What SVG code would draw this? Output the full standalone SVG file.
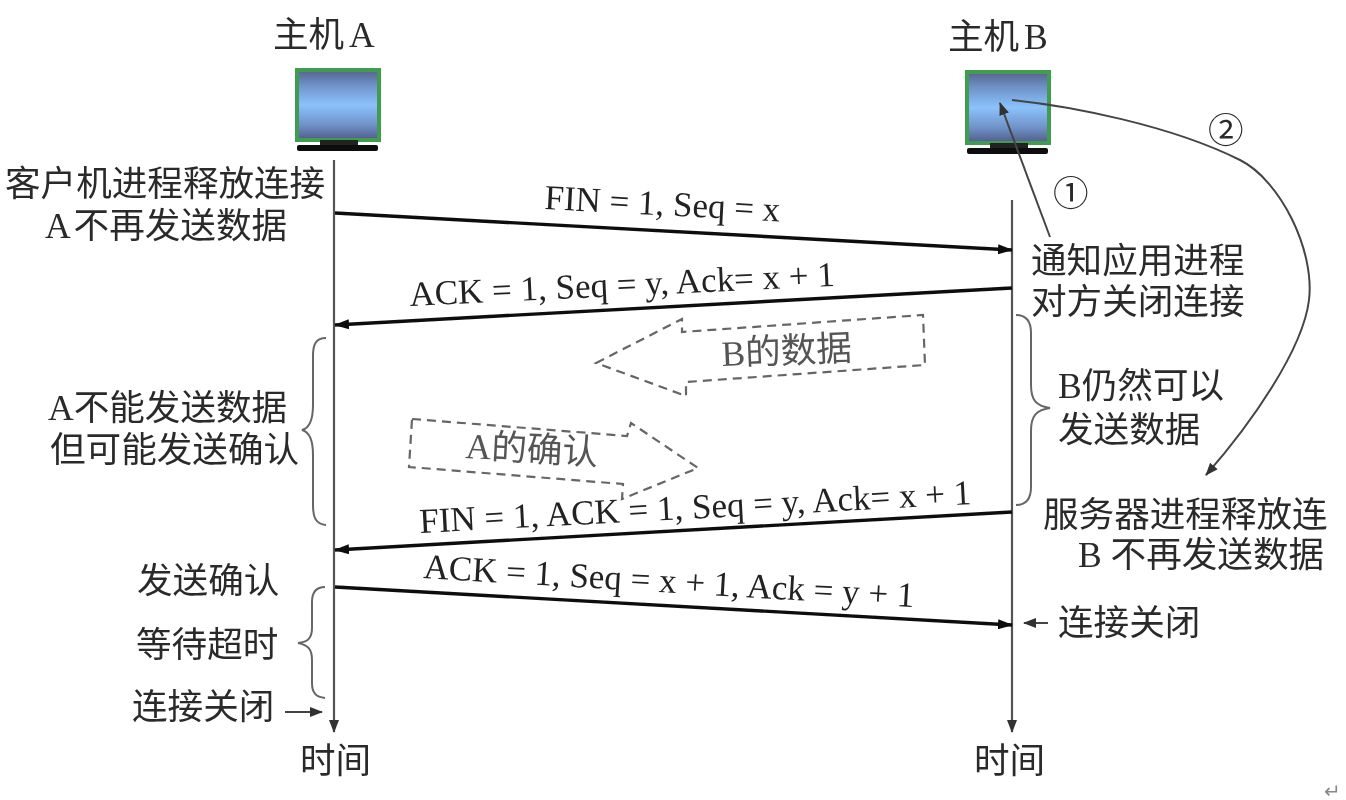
<svg xmlns="http://www.w3.org/2000/svg" width="1346" height="800" viewBox="0 0 1346 800">
<style>
text{font-family:"Liberation Serif","Noto Sans CJK SC",serif;font-size:35.6px;fill:#2a2a2a}
.m{font-size:35px;fill:#222}
.g{fill:#555}
.life{stroke:#555;stroke-width:2.2;fill:none}
.msg{stroke:#111;stroke-width:3.4;fill:none}
.brace{stroke:#666;stroke-width:2;fill:none}
.thin{stroke:#444;stroke-width:2;fill:none}
.dash{stroke:#666;stroke-width:2.2;fill:none;stroke-dasharray:9 6}
.scr{fill:url(#sg);stroke:#3f9c50;stroke-width:4}
.soft{filter:url(#s)}
.n{word-spacing:-4px}
</style>
<defs>
<filter id="s" x="0" y="0" width="1346" height="800" filterUnits="userSpaceOnUse"><feGaussianBlur stdDeviation="0.5"/></filter>
<linearGradient id="sg" x1="0" y1="0" x2="0" y2="1">
<stop offset="0" stop-color="#56608f"/><stop offset=".22" stop-color="#6f93c8"/><stop offset=".5" stop-color="#8cc2fc"/><stop offset=".78" stop-color="#6f93c8"/><stop offset="1" stop-color="#515a8a"/>
</linearGradient>
<marker id="a" markerWidth="18" markerHeight="10" refX="14" refY="5" orient="auto" markerUnits="userSpaceOnUse"><path d="M0 0L15 5L0 10Z" fill="#111"/></marker>
<marker id="b" markerWidth="14" markerHeight="12" refX="12" refY="6" orient="auto" markerUnits="userSpaceOnUse"><path d="M0 1L13 6L0 11Z" fill="#333"/></marker>
</defs>
<g class="soft">
<g id="host-a">
<text class="n" x="273" y="47">主机 A</text>
<rect class="scr" x="297" y="70" width="82" height="70"/>
<rect x="320" y="140" width="38" height="6" fill="#222"/>
<rect x="297" y="145" width="81" height="6" rx="2" fill="#111"/>
</g>
<g id="host-b">
<text class="n" x="948" y="49">主机 B</text>
<rect class="scr" x="967" y="72" width="82" height="71"/>
<rect x="990" y="143" width="38" height="6" fill="#222"/>
<rect x="967" y="148" width="81" height="6" rx="2" fill="#111"/>
</g>
<g id="connectors">
<path class="life" d="M334 160V732" marker-end="url(#b)"/>
<path class="life" d="M1012 200V732" marker-end="url(#b)"/>
<path class="msg" d="M335 213L1012 250" marker-end="url(#a)"/>
<path class="msg" d="M1012 288L335 325" marker-end="url(#a)"/>
<path class="msg" d="M1012 512L335 550" marker-end="url(#a)"/>
<path class="msg" d="M335 587L1012 625" marker-end="url(#a)"/>
<path class="thin" d="M1050 237L1000 103" marker-end="url(#b)"/>
<path class="thin" d="M1012 100C1070 106 1170 125 1240 160C1280 180 1315 250 1309 300C1303 350 1250 425 1206 475" marker-end="url(#b)"/>
<path class="thin" d="M285 712H322" marker-end="url(#b)"/>
<path class="thin" d="M1048 623H1024" marker-end="url(#b)"/>
<path class="brace" d="M326 338C316 338 313 344 313 356V405C313 420 310 428 302 430C310 432 313 440 313 455V505C313 518 316 524 326 525"/>
<path class="brace" d="M325 587C316 587 312 592 312 602V628C312 638 308 642 298 643C308 645 312 649 312 660V683C312 693 316 697 325 698"/>
<path class="brace" d="M1016 315C1026 315 1031 321 1031 333V385C1031 400 1036 406 1050 408C1036 410 1031 416 1031 431V487C1031 499 1026 505 1016 505"/>
<path class="dash" d="M596 363L682 319V332L923 315L925 365L686 382V396Z"/>
<path class="dash" d="M412 419L627 436L631 423L698 468L622 499L623 484L409 467Z"/>
</g>
<g id="labels">
<text x="5" y="196">客户机进程释放连接</text>
<text class="n" x="45" y="238">A 不再发送数据</text>
<text class="m" transform="translate(544 209) rotate(3)">FIN = 1, Seq = x</text>
<text class="m" transform="translate(410 306) rotate(-2.7)">ACK = 1, Seq = y, Ack= x + 1</text>
<text class="m" transform="translate(420 533) rotate(-3)">FIN = 1, ACK = 1, Seq = y, Ack= x + 1</text>
<text class="m" transform="translate(423 578) rotate(3.4)">ACK = 1, Seq = x + 1, Ack = y + 1</text>
<text class="g" transform="translate(722 366) rotate(-2.5)">B的数据</text>
<text class="g" transform="translate(465 458) rotate(3)">A的确认</text>
<text x="48" y="420">A不能发送数据</text>
<text x="50" y="462">但可能发送确认</text>
<text x="137" y="593">发送确认</text>
<text x="136" y="657">等待超时</text>
<text x="132" y="719">连接关闭</text>
<text x="300" y="773">时间</text>
<text x="974" y="773">时间</text>
<text x="1031" y="273">通知应用进程</text>
<text x="1031" y="314">对方关闭连接</text>
<text x="1058" y="398">B仍然可以</text>
<text x="1058" y="442">发送数据</text>
<text x="1043" y="527">服务器进程释放连</text>
<text x="1078" y="567">B 不再发送数据</text>
<text x="1058" y="635">连接关闭</text>
<text x="1053" y="206">①</text>
<text x="1208" y="143">②</text>
<text x="1324" y="798" style="font-size:20px;fill:#888">↵</text>
</g>
</g>
</svg>
